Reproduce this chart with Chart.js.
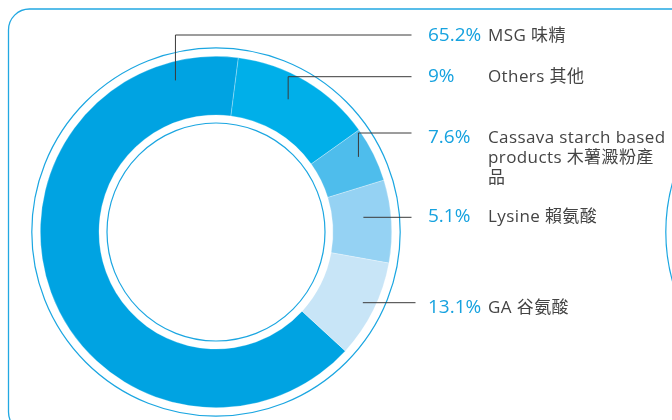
<!DOCTYPE html>
<html>
<head>
<meta charset="utf-8">
<script src="https://cdn.jsdelivr.net/npm/chart.js@4.4.0/dist/chart.umd.min.js"></script>
<style>
  html, body { margin: 0; padding: 0; background: #fff; }
  #wrap { width: 672px; height: 420px; }
</style>
</head>
<body>
<div id="wrap"><canvas id="mix" width="672" height="420"></canvas></div>
<script>
// ring slices, clockwise, sizes as they are drawn in the picture
const sliceNames = ['MSG', 'Others', 'Cassava', 'Lysine', 'GA'];
const sliceValues = [65.2, 13.1, 5.1, 7.6, 9.0];
const sliceColors = ['#00a3e2', '#00afe9', '#4ebdec', '#95d2f3', '#c8e5f7'];

// printed labels, one per slice above (same order)
const pctLabels = ['65.2%', '9%', '7.6%', '5.1%', '13.1%'];
const nameLabels = [
  ['MSG 味精'],
  ['Others 其他'],
  ['Cassava starch based', 'products 木薯澱粉產', '品'],
  ['Lysine 賴氨酸'],
  ['GA 谷氨酸']
];

// where each leader starts inside its slice (fraction along arc / across band) and where the text sits
const leaders = [
  { frac: 0.905, depth: 0.68, lineY: 35,    endX: 411.5, textY: 40.5 },
  { frac: 0.45,  depth: 0.58, lineY: 76.7,  endX: 411.5, textY: 81.5 },
  { frac: 0.42,  depth: 0.75, lineY: 133,   endX: 411.5, textY: 142.5 },
  { frac: 0.42,  depth: 0.53, lineY: 217.3, endX: 411.5, textY: 221.5 },
  { frac: 0.475, depth: 0.78, lineY: 302.7, endX: 415.5, textY: 312.5 }
];

const FONT = '"Open Sans", "Noto Sans CJK TC", sans-serif';

const decor = {
  id: 'decor',
  afterDraw(chart) {
    const ctx = chart.ctx;
    const arcs = chart.getDatasetMeta(0).data;
    const cx = arcs[0].x, cy = arcs[0].y;
    const rOut = arcs[0].outerRadius, rIn = arcs[0].innerRadius;
    ctx.save();

    // panel frame
    ctx.strokeStyle = '#22a8e2';
    ctx.lineWidth = 1.3;
    ctx.beginPath();
    ctx.roundRect(8.5, 9, 700, 424, 21);
    ctx.stroke();

    // thin rings round the doughnut
    ctx.strokeStyle = '#1ba6e1';
    ctx.lineWidth = 1.2;
    [rOut + 8.5, rIn - 8].forEach(r => {
      ctx.beginPath();
      ctx.arc(cx, cy, r, 0, Math.PI * 2);
      ctx.stroke();
    });
    // next panel's ring just showing at the right edge
    ctx.beginPath();
    ctx.arc(cx + 634, cy, rOut + 8.5, 0, Math.PI * 2);
    ctx.stroke();

    // leader lines
    ctx.strokeStyle = '#3a3a3a';
    ctx.lineWidth = 1;
    leaders.forEach((l, i) => {
      const a = arcs[i];
      const ang = a.startAngle + (a.endAngle - a.startAngle) * l.frac;
      const r = a.innerRadius + (a.outerRadius - a.innerRadius) * l.depth;
      const px = a.x + r * Math.cos(ang);
      const py = a.y + r * Math.sin(ang);
      ctx.beginPath();
      if (Math.abs(py - l.lineY) > 2) {
        ctx.moveTo(px, py);
        ctx.lineTo(px, l.lineY);
      } else {
        ctx.moveTo(px, l.lineY);
      }
      ctx.lineTo(l.endX, l.lineY);
      ctx.stroke();
    });

    // texts
    ctx.textBaseline = 'alphabetic';
    ctx.textAlign = 'left';
    leaders.forEach((l, i) => {
      ctx.font = '19px ' + FONT;
      ctx.fillStyle = '#16a2df';
      ctx.letterSpacing = '0px';
      ctx.fillText(pctLabels[i], 428, l.textY);
      ctx.font = '17px ' + FONT;
      ctx.fillStyle = '#444444';
      ctx.letterSpacing = '0.4px';
      nameLabels[i].forEach((line, k) => {
        ctx.fillText(line, 488, l.textY + k * 20.3);
      });
    });
    ctx.restore();
  }
};

new Chart(document.getElementById('mix'), {
  type: 'doughnut',
  data: {
    labels: sliceNames,
    datasets: [{
      data: sliceValues,
      backgroundColor: sliceColors,
      borderWidth: 0.6,
      borderColor: 'rgba(255,255,255,0.45)'
    }]
  },
  options: {
    responsive: false,
    animation: false,
    rotation: 132.6,
    cutout: 117,
    layout: { padding: { left: 40, right: 280, top: 56, bottom: 12 } },
    plugins: {
      legend: { display: false },
      tooltip: { enabled: false }
    }
  },
  plugins: [decor]
});
</script>
</body>
</html>
